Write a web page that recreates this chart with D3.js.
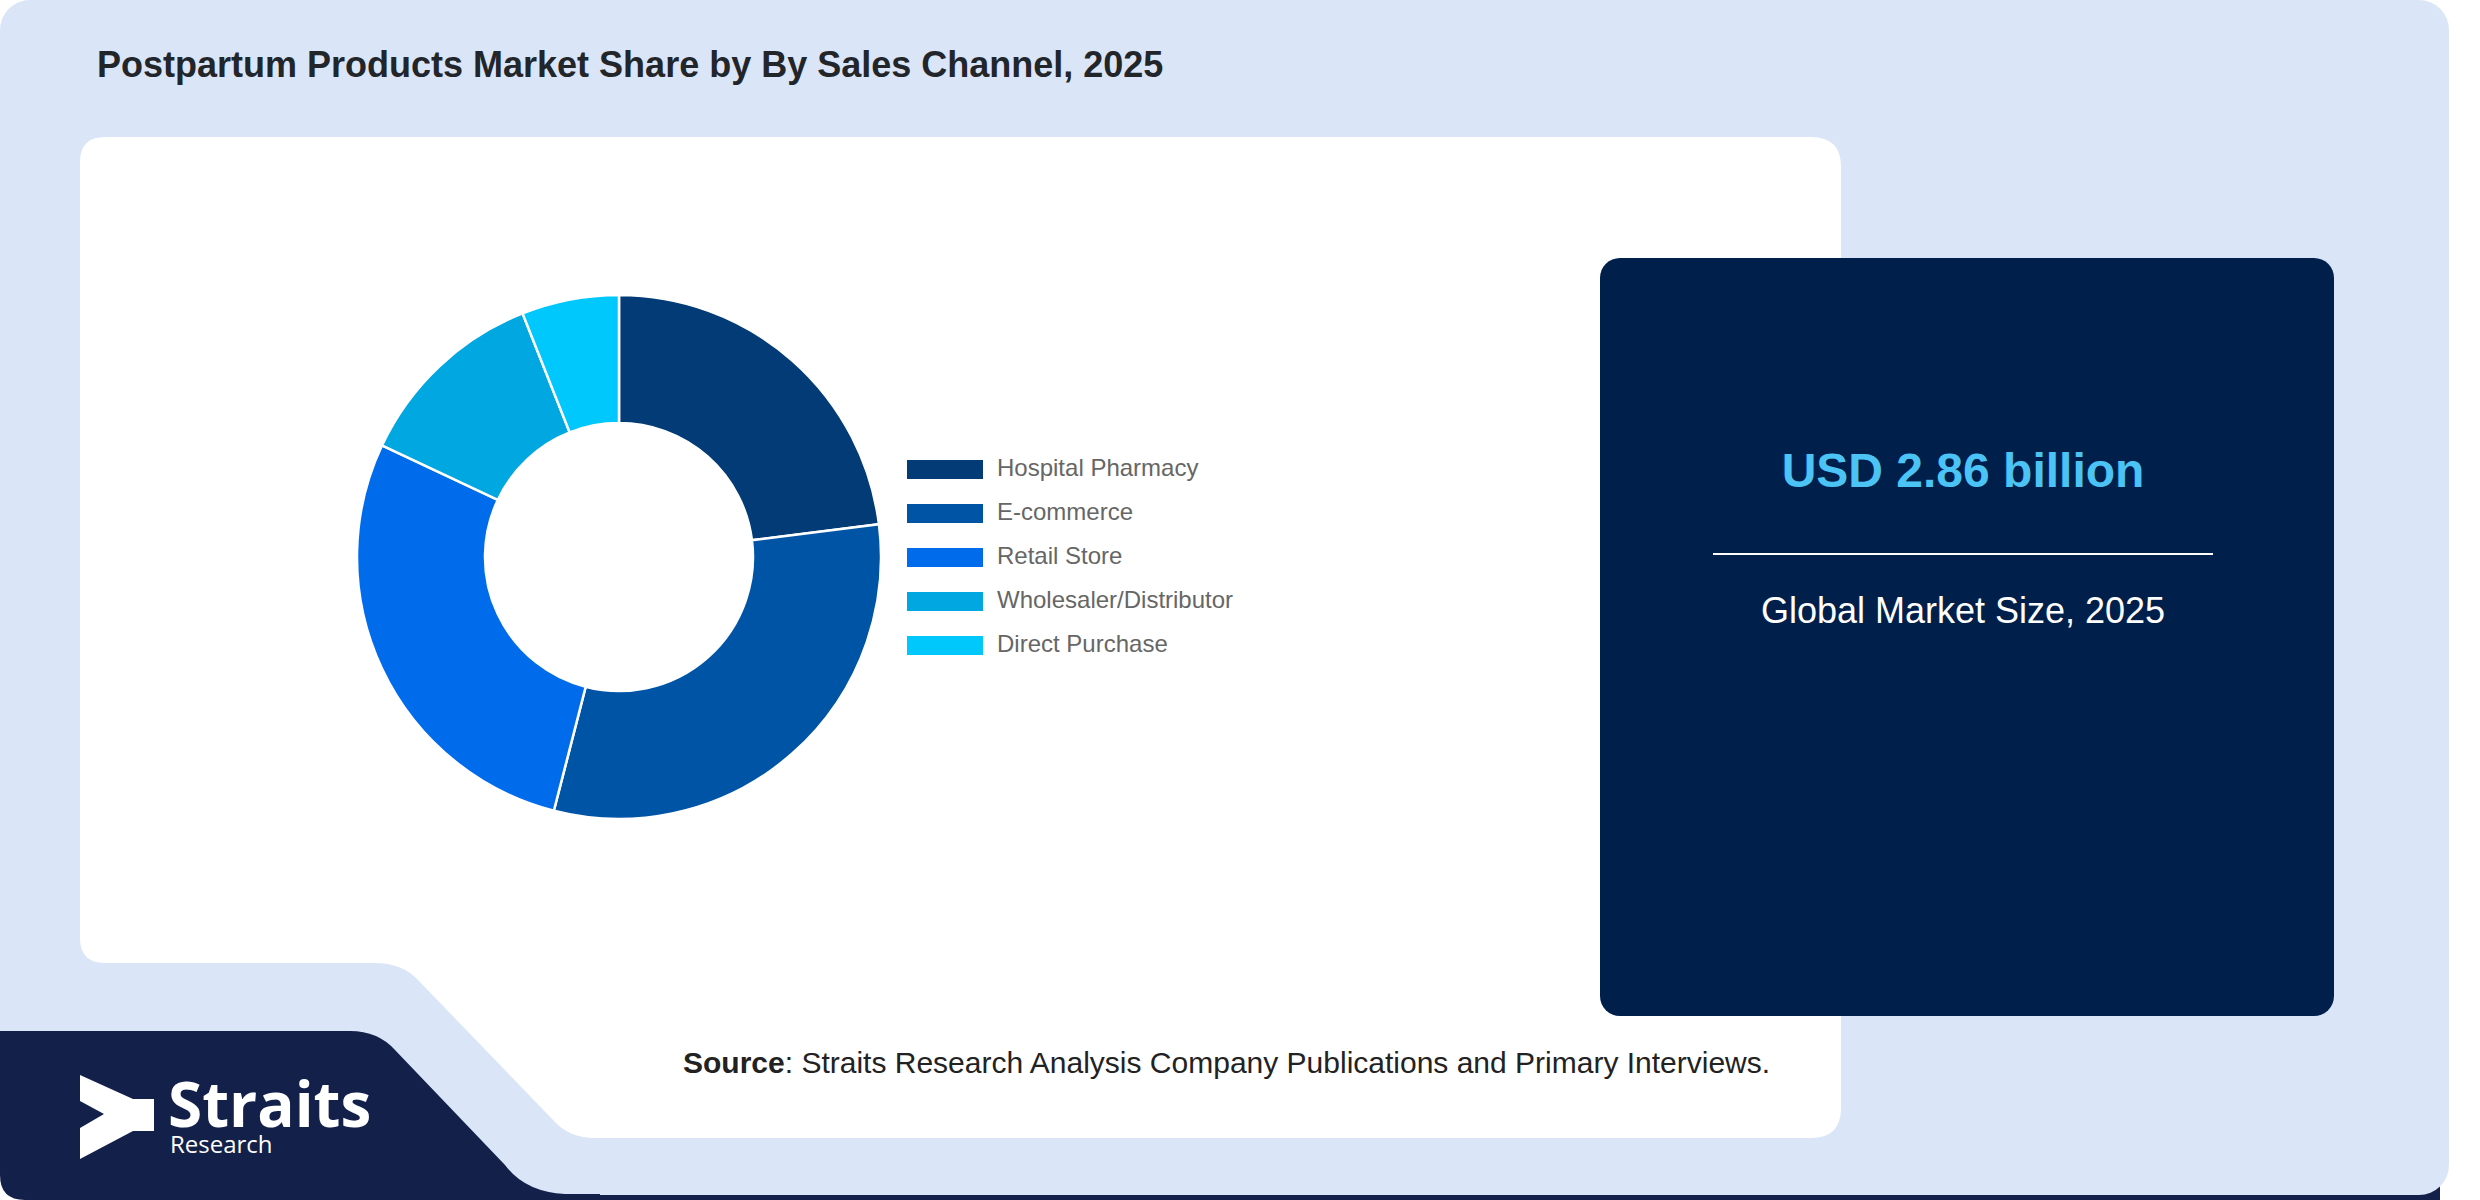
<!DOCTYPE html>
<html lang="en">
<head>
  <meta charset="UTF-8">
  <title>Postpartum Products Market Share by Sales Channel</title>
  <script src="https://d3js.org/d3.v7.min.js"></script>
  <style>
    html, body { margin: 0; padding: 0; background: #ffffff; }
    svg { display: block; }
  </style>
</head>
<body>
  <svg width="2480" height="1200"></svg>

  <script>
    // chart data
    const categories = ["Hospital Pharmacy", "E-commerce", "Retail Store", "Wholesaler/Distributor", "Direct Purchase"];
    const shares = [23, 31, 28, 12, 6];
    const colors = ["#023b75", "#0054a6", "#006cec", "#00a7e1", "#00c8fd"];
    const title = "Postpartum Products Market Share by By Sales Channel, 2025";
    const marketSize = "USD 2.86 billion";
    const marketLabel = "Global Market Size, 2025";

    const svg = d3.select("svg");

    // background pieces
    svg.append("rect")
      .attr("x", 540).attr("y", 1180).attr("width", 1900).attr("height", 20)
      .attr("fill", "#13214a");
    svg.append("rect")
      .attr("x", 0).attr("y", 0).attr("width", 2449).attr("height", 1195)
      .attr("rx", 30).attr("fill", "#dae6f8");

    // navy logo corner
    svg.append("path")
      .attr("d", "M0,1031 H350 Q378,1031 395,1050 L505,1165 Q525,1192 565,1194 H600 V1200 H25 Q0,1200 0,1175 Z")
      .attr("fill", "#13214a");

    // white chart panel with notch at bottom left
    svg.append("path")
      .attr("d", "M80,162 Q80,137 105,137 H1811 Q1841,137 1841,167 V1108 Q1841,1138 1811,1138 H595 Q570,1138 555,1122 L418,980 Q402,963 375,963 H105 Q80,963 80,938 Z")
      .attr("fill", "#ffffff");

    // title
    svg.append("text")
      .attr("x", 97).attr("y", 77)
      .attr("font-family", "'Liberation Sans', Arial, sans-serif")
      .attr("font-size", 36).attr("font-weight", "bold")
      .attr("fill", "#222529")
      .text(title);

    // donut
    const cx = 619, cy = 557;
    const pie = d3.pie().sort(null).value(d => d);
    const arc = d3.arc().innerRadius(134).outerRadius(262);
    const color = d3.scaleOrdinal().domain(categories).range(colors);

    svg.append("g")
      .attr("transform", `translate(${cx},${cy})`)
      .selectAll("path")
      .data(pie(shares))
      .join("path")
      .attr("d", arc)
      .attr("fill", (d, i) => color(categories[i]))
      .attr("stroke", "#ffffff")
      .attr("stroke-width", 2.5);

    // legend
    const ly = d3.scalePoint().domain(categories).range([460, 636]);
    const legend = svg.append("g")
      .selectAll("g")
      .data(categories)
      .join("g")
      .attr("transform", d => `translate(907,${ly(d)})`);
    legend.append("rect")
      .attr("width", 76).attr("height", 19)
      .attr("fill", d => color(d));
    legend.append("text")
      .attr("x", 90).attr("y", 10)
      .attr("dominant-baseline", "middle")
      .attr("font-family", "'Liberation Sans', Arial, sans-serif")
      .attr("font-size", 24)
      .attr("fill", "#666666")
      .text(d => d);

    // market size card
    svg.append("rect")
      .attr("x", 1600).attr("y", 258).attr("width", 734).attr("height", 758)
      .attr("rx", 20).attr("fill", "#011f4b");
    svg.append("text")
      .attr("x", 1963).attr("y", 487)
      .attr("text-anchor", "middle")
      .attr("font-family", "'Liberation Sans', Arial, sans-serif")
      .attr("font-size", 48).attr("font-weight", "bold")
      .attr("fill", "#4cc3f5")
      .text(marketSize);
    svg.append("line")
      .attr("x1", 1713).attr("x2", 2213).attr("y1", 554).attr("y2", 554)
      .attr("stroke", "#ffffff").attr("stroke-width", 2);
    svg.append("text")
      .attr("x", 1963).attr("y", 623)
      .attr("text-anchor", "middle")
      .attr("font-family", "'Liberation Sans', Arial, sans-serif")
      .attr("font-size", 36)
      .attr("fill", "#ffffff")
      .text(marketLabel);

    // source line
    const src = svg.append("text")
      .attr("x", 683).attr("y", 1073)
      .attr("font-family", "'Liberation Sans', Arial, sans-serif")
      .attr("font-size", 30)
      .attr("fill", "#222222");
    src.append("tspan").attr("font-weight", "bold").text("Source");
    src.append("tspan").text(": Straits Research Analysis Company Publications and Primary Interviews.");

    // logo
    svg.append("path")
      .attr("d", "M80,1075 L133,1099 H154 V1131 H133 L80,1159 V1128 L104,1114 L80,1101 Z")
      .attr("fill", "#ffffff");
    svg.append("text")
      .attr("x", 168).attr("y", 1127)
      .attr("font-family", "'Open Sans', 'Noto Sans', sans-serif")
      .attr("font-size", 62).attr("font-weight", 700)
      .attr("fill", "#ffffff")
      .text("Straits");
    svg.append("text")
      .attr("x", 170).attr("y", 1153)
      .attr("font-family", "'Open Sans', 'Noto Sans', sans-serif")
      .attr("font-size", 24)
      .attr("fill", "#ffffff")
      .text("Research");
  </script>
</body>
</html>
